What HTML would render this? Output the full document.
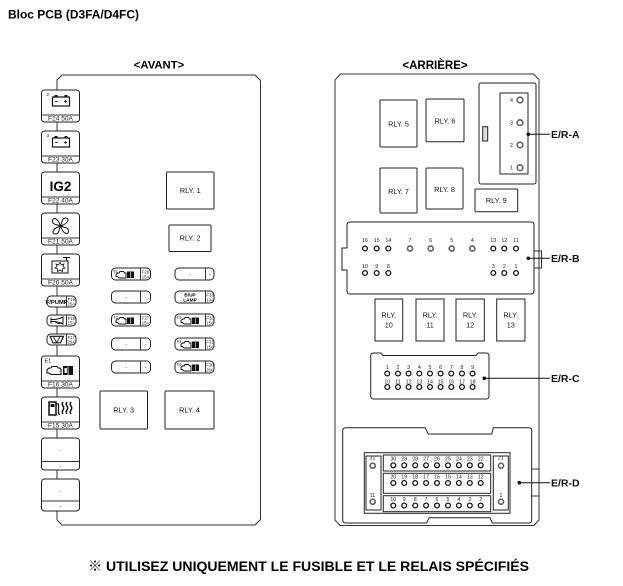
<!DOCTYPE html>
<html><head><meta charset="utf-8">
<style>
html,body{margin:0;padding:0;background:#fff;}
svg{display:block;font-family:"Liberation Sans",Arial,"Noto Sans CJK JP",sans-serif;}
.s{fill:#fff;stroke:#222;stroke-width:1}
.l{fill:none;stroke:#333;stroke-width:1}
.p{fill:#fff;stroke:#111;stroke-width:1.3}
.g{fill:#fff;stroke:#666;stroke-width:1.7}
.t{font-size:7.3px;fill:#111;text-anchor:middle}
.n{font-size:5.3px;fill:#222;text-anchor:middle}
.f{font-size:6.6px;fill:#222;text-anchor:middle}
.m{font-size:4.2px;fill:#222;text-anchor:middle}
.d{font-size:6px;fill:#444;text-anchor:middle}
.lab{font-size:10.5px;font-weight:bold;fill:#111}
</style></head><body>
<svg width="623" height="586" viewBox="0 0 623 586">
<defs>
<g id="eng">
<path d="M0,3 L1.5,1.5 H3 L4,0 H7.5 L8.5,1.5 H10 V6.5 H3 L1.5,5 H0 Z" fill="#fff" stroke="#111" stroke-width="0.9"/>
<rect x="11" y="0" width="7" height="6.5" fill="#111"/>
<path d="M14.5,0.5 V6" stroke="#fff" stroke-width="0.6"/>
</g>
</defs>

<text x="8" y="18.3" font-size="12" font-weight="bold" textLength="131" lengthAdjust="spacingAndGlyphs">Bloc PCB (D3FA/D4FC)</text>

<text x="159" y="68.5" font-size="11.3" font-weight="bold" text-anchor="middle">&lt;AVANT&gt;</text>
<text x="435" y="69" font-size="11.5" font-weight="bold" text-anchor="middle">&lt;ARRIÈRE&gt;</text>

<!-- AVANT outline -->
<path class="l" d="M57,520 V80 L62,75 H255 L260.5,80.5 V519.5 L255,525 H62 L57,520"/>

<!-- Large fuses -->
<g>
<rect class="s" x="41.5" y="90" width="38" height="32" rx="3"/><line class="l" x1="41.5" y1="115" x2="79.5" y2="115"/>
<text class="f" x="60.5" y="120.5">F24 50A</text>
<rect x="52.5" y="97" width="17" height="9" fill="#fff" stroke="#111" stroke-width="1.2"/>
<rect x="54.5" y="95" width="3" height="2" fill="#111"/><rect x="64.5" y="95" width="3" height="2" fill="#111"/>
<path d="M55,101.5h3 M64,101.5h3 M65.5,100v3" stroke="#111" stroke-width="0.8"/>
<text x="46.5" y="96" font-size="4.5">2</text>

<rect class="s" x="41.5" y="131" width="38" height="32" rx="3"/><line class="l" x1="41.5" y1="156" x2="79.5" y2="156"/>
<text class="f" x="60.5" y="161.5">F23 30A</text>
<rect x="52.5" y="138" width="17" height="9" fill="#fff" stroke="#111" stroke-width="1.2"/>
<rect x="54.5" y="136" width="3" height="2" fill="#111"/><rect x="64.5" y="136" width="3" height="2" fill="#111"/>
<path d="M55,142.5h3 M64,142.5h3 M65.5,141v3" stroke="#111" stroke-width="0.8"/>
<text x="46.5" y="137" font-size="4.5">3</text>

<rect class="s" x="41.5" y="172" width="38" height="32" rx="3"/><line class="l" x1="41.5" y1="197" x2="79.5" y2="197"/>
<text class="f" x="60.5" y="202.5">F22 40A</text>
<text x="60.5" y="191" font-size="13.5" font-weight="bold" text-anchor="middle">IG2</text>

<rect class="s" x="41.5" y="213" width="38" height="32" rx="3"/><line class="l" x1="41.5" y1="238" x2="79.5" y2="238"/>
<text class="f" x="60.5" y="243.5">F21 50A</text>
<g transform="translate(60.5,226)" fill="#fff" stroke="#111" stroke-width="1">
<path d="M0,0 C-4,-2 -8,-1 -8,-5 C-8,-9 -3,-9 0,0 Z"/>
<path d="M0,0 C-4,-2 -8,-1 -8,-5 C-8,-9 -3,-9 0,0 Z" transform="rotate(90)"/>
<path d="M0,0 C-4,-2 -8,-1 -8,-5 C-8,-9 -3,-9 0,0 Z" transform="rotate(180)"/>
<path d="M0,0 C-4,-2 -8,-1 -8,-5 C-8,-9 -3,-9 0,0 Z" transform="rotate(270)"/>
</g>

<rect class="s" x="41.5" y="254" width="38" height="32" rx="3"/><line class="l" x1="41.5" y1="279" x2="79.5" y2="279"/>
<text class="f" x="60.5" y="284.5">F20 50A</text>
<rect x="52" y="261" width="16" height="12" fill="#fff" stroke="#111" stroke-width="1"/>
<path d="M63,257.5 H70 M66.5,257.5 V261" stroke="#111" stroke-width="1" fill="none"/>
<path d="M60,262.5 L61.5,265 L64,264 L63,266.5 L65,268 L62.5,268.8 L62.5,271.5 L60,270 L57.5,271.5 L57.5,268.8 L55,268 L57,266.5 L56,264 L58.5,265 Z" fill="#fff" stroke="#111" stroke-width="0.8"/>

<rect class="s" x="41.5" y="356" width="38" height="32" rx="3"/><line class="l" x1="41.5" y1="381" x2="79.5" y2="381"/>
<text class="f" x="60.5" y="386.5">F16 30A</text>
<text x="44.5" y="362.5" font-size="5.5" fill="#111">E1</text>
<path d="M47,370 L49,368 L51,368 L52,366.5 L57,366.5 L58,368 L60,368 L61,369.5 V374.5 H51 L49,373 L47,373 Z" fill="#fff" stroke="#111" stroke-width="1.1"/>
<rect x="63" y="366" width="10" height="9" fill="#111"/>
<path d="M68,366.5 V375" stroke="#fff" stroke-width="0.8"/>
<rect x="64.5" y="368" width="2.3" height="5" fill="#fff"/>

<rect class="s" x="41.5" y="397" width="38" height="32" rx="3"/><line class="l" x1="41.5" y1="422" x2="79.5" y2="422"/>
<text class="f" x="60.5" y="427.5">F15 30A</text>
<path d="M49,402 H56 V415 H49 Z" fill="#fff" stroke="#111" stroke-width="1.5"/>
<rect x="50.5" y="404" width="4" height="3" fill="#111"/>
<path d="M56,404 H58.5 V413 Q58.5,415 60,414" fill="none" stroke="#111" stroke-width="1.2"/>
<path d="M63,402 q-1.5,2 0,4 q1.5,2 0,4 q-1.5,2 0,4 M67,402 q-1.5,2 0,4 q1.5,2 0,4 q-1.5,2 0,4 M71,402 q-1.5,2 0,4 q1.5,2 0,4 q-1.5,2 0,4" fill="none" stroke="#111" stroke-width="1.5"/>

<rect class="s" x="41.5" y="438" width="38" height="32" rx="3"/><line class="l" x1="41.5" y1="461.5" x2="79.5" y2="461.5"/>
<text class="d" x="60.5" y="452">-</text><text class="d" x="60.5" y="468">-</text>

<rect class="s" x="41.5" y="479" width="38" height="32" rx="3"/><line class="l" x1="41.5" y1="501" x2="79.5" y2="501"/>
<text class="d" x="60.5" y="493">-</text><text class="d" x="60.5" y="508">-</text>
</g>

<!-- small left fuses -->
<rect class="s" x="47" y="296" width="29" height="11" rx="4"/><line class="l" x1="66.5" y1="296" x2="66.5" y2="307"/>
<text x="56.7" y="303.8" font-size="5.8" font-weight="bold" text-anchor="middle">F/PUMP</text>
<text class="m" x="71.3" y="300.8">F19</text><text class="m" x="71.3" y="305.6">25A</text>

<rect class="s" x="47" y="315" width="29" height="11" rx="4"/><line class="l" x1="66.5" y1="315" x2="66.5" y2="326"/>
<path d="M51,317.5 V323.5 M51,319.5 H55 Q59,319 63,317 V324 Q59,322 55,321.5 H51" fill="none" stroke="#111" stroke-width="1"/>
<path d="M55,321.5 Q58,325 62,322.5" fill="none" stroke="#111" stroke-width="0.9"/>
<text class="m" x="71.3" y="319.8">F18</text><text class="m" x="71.3" y="324.6">15A</text>

<rect class="s" x="47" y="334" width="29" height="11" rx="4"/><line class="l" x1="66.5" y1="334" x2="66.5" y2="345"/>
<path d="M50,336.3 H63.5 L60.5,342.8 H53 Z" fill="#fff" stroke="#111" stroke-width="1.1"/>
<path d="M56.7,342.5 L53.5,337 M56.7,342.5 L60,337" fill="none" stroke="#111" stroke-width="0.8"/>
<text class="m" x="71.3" y="338.8">F17</text><text class="m" x="71.3" y="343.6">25A</text>

<!-- middle fuses left column -->
<g>
<rect class="s" x="111.5" y="268" width="39" height="12" rx="4"/><line class="l" x1="140.5" y1="268" x2="140.5" y2="280"/>
<use href="#eng" x="116" y="271.5"/><text x="113.5" y="272.5" font-size="3.6">E1</text>
<text class="m" x="145.5" y="273.5">F26</text><text class="m" x="145.5" y="278.5">15A</text>

<rect class="s" x="111.5" y="291" width="39" height="12" rx="4"/><line class="l" x1="140.5" y1="291" x2="140.5" y2="303"/>
<text class="d" x="126" y="299.5">-</text><text class="d" x="145.5" y="299.5">-</text>

<rect class="s" x="111.5" y="314" width="39" height="12" rx="4"/><line class="l" x1="140.5" y1="314" x2="140.5" y2="326"/>
<use href="#eng" x="116" y="317.5"/><text x="113.5" y="318.5" font-size="3.6">E2</text>
<text class="m" x="145.5" y="319.5">F27</text><text class="m" x="145.5" y="324.5">15A</text>

<rect class="s" x="111.5" y="338" width="39" height="12" rx="4"/><line class="l" x1="140.5" y1="338" x2="140.5" y2="350"/>
<text class="d" x="126" y="346.5">-</text><text class="d" x="145.5" y="346.5">-</text>

<rect class="s" x="111.5" y="361" width="39" height="12" rx="4"/><line class="l" x1="140.5" y1="361" x2="140.5" y2="373"/>
<text class="d" x="126" y="369.5">-</text><text class="d" x="145.5" y="369.5">-</text>
</g>

<!-- middle fuses right column -->
<g>
<rect class="s" x="175" y="268" width="39" height="12" rx="4"/><line class="l" x1="205.5" y1="268" x2="205.5" y2="280"/>
<text class="d" x="190" y="276.5">-</text><text class="d" x="210" y="276.5">-</text>

<rect class="s" x="175" y="291" width="39" height="12" rx="4"/><line class="l" x1="205.5" y1="291" x2="205.5" y2="303"/>
<text x="190" y="296.3" font-size="4.8" font-weight="bold" text-anchor="middle">B/UP</text>
<text x="190" y="301.3" font-size="4.8" font-weight="bold" text-anchor="middle">LAMP</text>
<text class="m" x="210" y="296.5">F33</text><text class="m" x="210" y="301.5">10A</text>

<rect class="s" x="175" y="314" width="39" height="12" rx="4"/><line class="l" x1="205.5" y1="314" x2="205.5" y2="326"/>
<use href="#eng" x="181" y="317.5"/><text x="177" y="318.5" font-size="3.6">E5</text>
<text class="m" x="210" y="319.5">F32</text><text class="m" x="210" y="324.5">15A</text>

<rect class="s" x="175" y="338" width="39" height="12" rx="4"/><line class="l" x1="205.5" y1="338" x2="205.5" y2="350"/>
<use href="#eng" x="181" y="341.5"/><text x="177" y="342.5" font-size="3.6">E3</text>
<text class="m" x="210" y="343.5">F31</text><text class="m" x="210" y="348.5">15A</text>

<rect class="s" x="175" y="361" width="39" height="12" rx="4"/><line class="l" x1="205.5" y1="361" x2="205.5" y2="373"/>
<use href="#eng" x="181" y="364.5"/><text x="177" y="365.5" font-size="3.6">E6</text>
<text class="m" x="210" y="366.5">F30</text><text class="m" x="210" y="371.5">20A</text>
</g>

<!-- AVANT relays -->
<rect class="s" x="166.5" y="172" width="47.5" height="37" rx="1"/><text class="t" x="190.3" y="193">RLY. 1</text>
<rect class="s" x="169" y="225" width="42" height="26.5" rx="1"/><text class="t" x="190" y="240.5">RLY. 2</text>
<rect class="s" x="100" y="391" width="47.5" height="38" rx="1"/><text class="t" x="123.7" y="412.5">RLY. 3</text>
<rect class="s" x="165" y="391" width="49" height="38" rx="1"/><text class="t" x="189.5" y="412.5">RLY. 4</text>

<!-- ARRIERE outline -->
<path class="l" d="M335,80 L340.5,74 H533.5 L539,79.5 V520 L534,525.5 H340 L335,520 Z"/>

<!-- E/R-A -->
<rect class="s" x="479" y="83" width="57" height="101" rx="2"/>
<rect class="s" x="500" y="93" width="28" height="81"/>
<rect x="482.7" y="126.7" width="5" height="14.3" fill="#ddd" stroke="#222" stroke-width="1"/>
<circle class="g" cx="520" cy="100" r="2.8" stroke="#222"/><text class="n" x="511.5" y="102">4</text>
<circle class="g" cx="520" cy="122.7" r="2.8" stroke="#222"/><text class="n" x="511.5" y="124.7">3</text>
<circle class="g" cx="520" cy="145" r="2.8" stroke="#222"/><text class="n" x="511.5" y="147">2</text>
<circle class="g" cx="520" cy="167.7" r="2.8" stroke="#222"/><text class="n" x="511.5" y="169.7">1</text>
<circle cx="528.3" cy="134.3" r="1.8" fill="#111"/><line x1="528.3" y1="134.3" x2="550" y2="134.3" stroke="#111" stroke-width="1"/>
<text class="lab" x="551" y="138">E/R-A</text>

<!-- ARRIERE relays -->
<rect class="s" x="380" y="100" width="37" height="47" rx="1"/><text class="t" x="398.5" y="126.5">RLY. 5</text>
<rect class="s" x="426" y="99" width="38" height="42.7" rx="1"/><text class="t" x="445" y="123.5">RLY. 6</text>
<rect class="s" x="380" y="168" width="37" height="45" rx="1"/><text class="t" x="398.5" y="194">RLY. 7</text>
<rect class="s" x="426" y="168" width="37" height="41" rx="1"/><text class="t" x="444.5" y="192">RLY. 8</text>
<rect class="s" x="475" y="189" width="42.7" height="22.7" rx="1"/><text class="t" x="496.3" y="203">RLY. 9</text>

<!-- E/R-B -->
<path class="s" d="M350,222 H531 Q534,222 534,225 V291 Q534,294 531,294 H350 Q347,294 347,291 V270 H342 V248 H347 V225 Q347,222 350,222 Z"/>
<path class="l" d="M534,251 H541.5 V268 H534"/>
<g>
<text class="n" x="365" y="242">16</text><text class="n" x="376.7" y="242">15</text><text class="n" x="388.3" y="242">14</text>
<text class="n" x="410" y="242">7</text><text class="n" x="430.7" y="242">6</text><text class="n" x="451.7" y="242">5</text><text class="n" x="472.3" y="242">4</text>
<text class="n" x="493.3" y="242">13</text><text class="n" x="504.3" y="242">12</text><text class="n" x="516" y="242">11</text>
<circle class="p" cx="365" cy="248.5" r="2.4"/><circle class="p" cx="376.7" cy="248.5" r="2.4"/><circle class="p" cx="388.3" cy="248.5" r="2.4"/>
<circle class="g" cx="410" cy="248.5" r="2.5"/><circle class="g" cx="430.7" cy="248.5" r="2.5"/><circle class="g" cx="451.7" cy="248.5" r="2.5"/><circle class="g" cx="472.3" cy="248.5" r="2.5"/>
<circle class="p" cx="493.3" cy="248.5" r="2.4"/><circle class="p" cx="504.3" cy="248.5" r="2.4"/><circle class="p" cx="516" cy="248.5" r="2.4"/>
<text class="n" x="365" y="268">10</text><text class="n" x="376.7" y="268">9</text><text class="n" x="388.3" y="268">8</text>
<text class="n" x="493.3" y="268">3</text><text class="n" x="504.3" y="268">2</text><text class="n" x="516" y="268">1</text>
<circle class="p" cx="365" cy="273" r="2.4"/><circle class="p" cx="376.7" cy="273" r="2.4"/><circle class="p" cx="388.3" cy="273" r="2.4"/>
<circle class="p" cx="493.3" cy="273" r="2.4"/><circle class="p" cx="504.3" cy="273" r="2.4"/><circle class="p" cx="516" cy="273" r="2.4"/>
</g>
<circle cx="528.3" cy="258.3" r="1.8" fill="#111"/><line x1="528.3" y1="258.3" x2="550" y2="258.3" stroke="#111" stroke-width="1"/>
<text class="lab" x="551" y="262">E/R-B</text>

<!-- RLY 10-13 -->
<rect class="s" x="375" y="299" width="27.7" height="42"/><text class="t" x="388.8" y="317.5">RLY.</text><text class="t" x="388.8" y="327.5">10</text>
<rect class="s" x="416" y="299" width="28" height="42"/><text class="t" x="430" y="317.5">RLY.</text><text class="t" x="430" y="327.5">11</text>
<rect class="s" x="456" y="299" width="28.3" height="42"/><text class="t" x="470.2" y="317.5">RLY.</text><text class="t" x="470.2" y="327.5">12</text>
<rect class="s" x="496.7" y="299" width="28.3" height="42"/><text class="t" x="510.8" y="317.5">RLY.</text><text class="t" x="510.8" y="327.5">13</text>

<!-- E/R-C -->
<path class="s" d="M373.7,353 H381 L383,355.5 H476 L478,353 H486 Q489,353 489,356 V396 Q489,399 486,399 H373.7 Q370.7,399 370.7,396 V356 Q370.7,353 373.7,353 Z"/>
<g>
<text class="n" x="387.3" y="369">1</text><text class="n" x="398" y="369">2</text><text class="n" x="408.6" y="369">3</text><text class="n" x="419.3" y="369">4</text><text class="n" x="430" y="369">5</text><text class="n" x="440.6" y="369">6</text><text class="n" x="451.3" y="369">7</text><text class="n" x="462" y="369">8</text><text class="n" x="472.6" y="369">9</text>
<circle class="p" cx="387.3" cy="373.5" r="2.4"/><circle class="p" cx="398" cy="373.5" r="2.4"/><circle class="p" cx="408.6" cy="373.5" r="2.4"/><circle class="p" cx="419.3" cy="373.5" r="2.4"/><circle class="p" cx="430" cy="373.5" r="2.4"/><circle class="p" cx="440.6" cy="373.5" r="2.4"/><circle class="p" cx="451.3" cy="373.5" r="2.4"/><circle class="p" cx="462" cy="373.5" r="2.4"/><circle class="p" cx="472.6" cy="373.5" r="2.4"/>
<text class="n" x="387.3" y="383.3">10</text><text class="n" x="398" y="383.3">11</text><text class="n" x="408.6" y="383.3">12</text><text class="n" x="419.3" y="383.3">13</text><text class="n" x="430" y="383.3">14</text><text class="n" x="440.6" y="383.3">15</text><text class="n" x="451.3" y="383.3">16</text><text class="n" x="462" y="383.3">17</text><text class="n" x="472.6" y="383.3">18</text>
<circle class="p" cx="387.3" cy="387" r="2.4"/><circle class="p" cx="398" cy="387" r="2.4"/><circle class="p" cx="408.6" cy="387" r="2.4"/><circle class="p" cx="419.3" cy="387" r="2.4"/><circle class="p" cx="430" cy="387" r="2.4"/><circle class="p" cx="440.6" cy="387" r="2.4"/><circle class="p" cx="451.3" cy="387" r="2.4"/><circle class="p" cx="462" cy="387" r="2.4"/><circle class="p" cx="472.6" cy="387" r="2.4"/>
</g>
<circle cx="484.3" cy="378.3" r="1.8" fill="#111"/><line x1="484.3" y1="378.3" x2="550" y2="378.3" stroke="#111" stroke-width="1"/>
<text class="lab" x="551" y="382">E/R-C</text>

<!-- E/R-D -->
<path class="s" d="M345.7,427.7 H425 L428.3,434 H491.7 L493.3,427.7 H528.7 Q531.7,427.7 531.7,430.7 V520 Q531.7,523 528.7,523 H492.3 L490,517.7 H429 L426.7,523 H345.7 Q342.7,523 342.7,520 V430.7 Q342.7,427.7 345.7,427.7 Z"/>
<path class="l" d="M531.7,469 H539 V496 H531.7"/>
<rect class="s" x="364.3" y="452.7" width="145.7" height="60.6"/>
<rect class="s" x="366" y="456" width="15" height="54"/>
<rect class="s" x="493.3" y="456" width="15" height="54"/>
<rect class="s" x="383.3" y="455" width="107.4" height="16"/>
<rect class="s" x="383.3" y="473.3" width="107.4" height="20"/>
<rect class="s" x="383.3" y="495.7" width="107.4" height="16"/>
<text class="n" x="372.5" y="459.5">31</text><circle class="g" cx="372.7" cy="465.7" r="2.5" stroke="#333"/>
<text class="n" x="372.5" y="497">11</text><circle class="g" cx="372.7" cy="501.7" r="2.5" stroke="#333"/>
<text class="n" x="501" y="459.5">21</text><circle class="g" cx="501" cy="465.7" r="2.5" stroke="#333"/>
<text class="n" x="501" y="497">1</text><circle class="g" cx="501" cy="501.7" r="2.5" stroke="#333"/>
<g>
<text class="n" x="393.3" y="460.3">30</text><text class="n" x="404.2" y="460.3">29</text><text class="n" x="415.2" y="460.3">28</text><text class="n" x="426.1" y="460.3">27</text><text class="n" x="437" y="460.3">26</text><text class="n" x="448" y="460.3">25</text><text class="n" x="458.9" y="460.3">24</text><text class="n" x="469.8" y="460.3">23</text><text class="n" x="480.7" y="460.3">22</text>
<circle class="p" cx="393.3" cy="465.3" r="2.4"/><circle class="p" cx="404.2" cy="465.3" r="2.4"/><circle class="p" cx="415.2" cy="465.3" r="2.4"/><circle class="p" cx="426.1" cy="465.3" r="2.4"/><circle class="p" cx="437" cy="465.3" r="2.4"/><circle class="p" cx="448" cy="465.3" r="2.4"/><circle class="p" cx="458.9" cy="465.3" r="2.4"/><circle class="p" cx="469.8" cy="465.3" r="2.4"/><circle class="p" cx="480.7" cy="465.3" r="2.4"/>
<text class="n" x="393.3" y="478.7">20</text><text class="n" x="404.2" y="478.7">19</text><text class="n" x="415.2" y="478.7">18</text><text class="n" x="426.1" y="478.7">17</text><text class="n" x="437" y="478.7">16</text><text class="n" x="448" y="478.7">15</text><text class="n" x="458.9" y="478.7">14</text><text class="n" x="469.8" y="478.7">13</text><text class="n" x="480.7" y="478.7">12</text>
<circle class="p" cx="393.3" cy="483" r="2.4"/><circle class="p" cx="404.2" cy="483" r="2.4"/><circle class="p" cx="415.2" cy="483" r="2.4"/><circle class="p" cx="426.1" cy="483" r="2.4"/><circle class="p" cx="437" cy="483" r="2.4"/><circle class="p" cx="448" cy="483" r="2.4"/><circle class="p" cx="458.9" cy="483" r="2.4"/><circle class="p" cx="469.8" cy="483" r="2.4"/><circle class="p" cx="480.7" cy="483" r="2.4"/>
<text class="n" x="393.3" y="501">10</text><text class="n" x="404.2" y="501">9</text><text class="n" x="415.2" y="501">8</text><text class="n" x="426.1" y="501">7</text><text class="n" x="437" y="501">6</text><text class="n" x="448" y="501">5</text><text class="n" x="458.9" y="501">4</text><text class="n" x="469.8" y="501">3</text><text class="n" x="480.7" y="501">2</text>
<circle class="p" cx="393.3" cy="505.5" r="2.4"/><circle class="p" cx="404.2" cy="505.5" r="2.4"/><circle class="p" cx="415.2" cy="505.5" r="2.4"/><circle class="p" cx="426.1" cy="505.5" r="2.4"/><circle class="p" cx="437" cy="505.5" r="2.4"/><circle class="p" cx="448" cy="505.5" r="2.4"/><circle class="p" cx="458.9" cy="505.5" r="2.4"/><circle class="p" cx="469.8" cy="505.5" r="2.4"/><circle class="p" cx="480.7" cy="505.5" r="2.4"/>
</g>
<circle cx="519.3" cy="482.7" r="1.8" fill="#111"/><line x1="519.3" y1="482.7" x2="550" y2="482.7" stroke="#111" stroke-width="1"/>
<text class="lab" x="551" y="486.5">E/R-D</text>

<!-- footer -->
<text x="88" y="571" font-size="14.2" font-weight="bold" textLength="441" lengthAdjust="spacingAndGlyphs">※ UTILISEZ UNIQUEMENT LE FUSIBLE ET LE RELAIS SPÉCIFIÉS</text>
</svg>
</body></html>
